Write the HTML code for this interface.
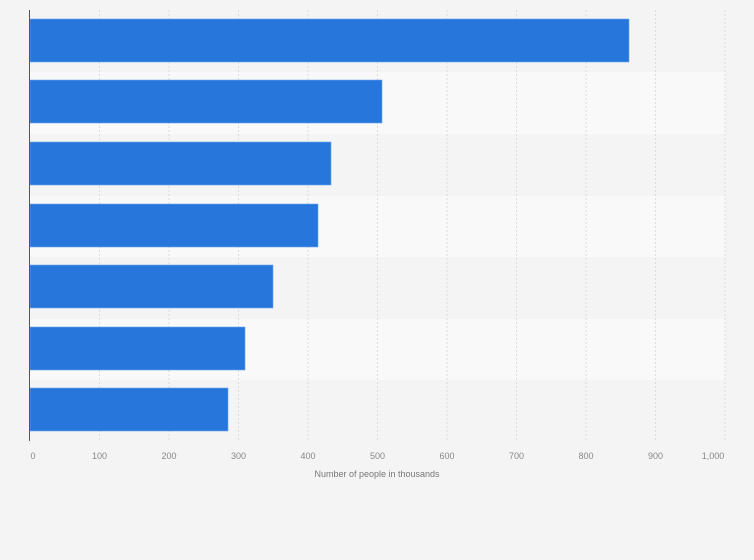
<!DOCTYPE html>
<html><head><style>
body{margin:0;background:#f4f4f4;font-family:"Liberation Sans",sans-serif}
</style></head><body>
<svg width="754" height="560" xmlns="http://www.w3.org/2000/svg" style="display:block">
<rect width="754" height="560" fill="#f4f4f4"/>
<g>
<rect x="30" y="72" width="695" height="62" fill="#f9f9f9"/>
<rect x="30" y="196" width="695" height="61" fill="#f9f9f9"/>
<rect x="30" y="319" width="695" height="61" fill="#f9f9f9"/>
</g>
<g stroke="#dcdcdc" stroke-dasharray="2,2" stroke-width="1">
<line x1="99.5" y1="10" x2="99.5" y2="441"/><line x1="169" y1="10" x2="169" y2="441"/>
<line x1="238.5" y1="10" x2="238.5" y2="441"/><line x1="308" y1="10" x2="308" y2="441"/>
<line x1="377.5" y1="10" x2="377.5" y2="441"/><line x1="447" y1="10" x2="447" y2="441"/>
<line x1="516.5" y1="10" x2="516.5" y2="441"/><line x1="586" y1="10" x2="586" y2="441"/>
<line x1="655.5" y1="10" x2="655.5" y2="441"/><line x1="725" y1="10" x2="725" y2="441"/>
</g>
<g fill="#2676db" stroke="#6fa3ea" stroke-width="0.6">
<rect x="30" y="19" width="599" height="43"/>
<rect x="30" y="80" width="352" height="43"/>
<rect x="30" y="142" width="301" height="43"/>
<rect x="30" y="204" width="288" height="43"/>
<rect x="30" y="265" width="243" height="43"/>
<rect x="30" y="327" width="215" height="43"/>
<rect x="30" y="388" width="198" height="43"/>
</g>
<line x1="29.5" y1="10" x2="29.5" y2="441" stroke="#555" stroke-width="1"/>
<g font-size="9" fill="#888" text-anchor="middle">
<text x="33" y="459">0</text><text x="99.5" y="459">100</text><text x="169" y="459">200</text>
<text x="238.5" y="459">300</text><text x="308" y="459">400</text><text x="377.5" y="459">500</text>
<text x="447" y="459">600</text><text x="516.5" y="459">700</text><text x="586" y="459">800</text>
<text x="655.5" y="459">900</text><text x="713" y="459">1,000</text>
<text x="377" y="477" fill="#777">Number of people in thousands</text>
</g>
</svg>
</body></html>
